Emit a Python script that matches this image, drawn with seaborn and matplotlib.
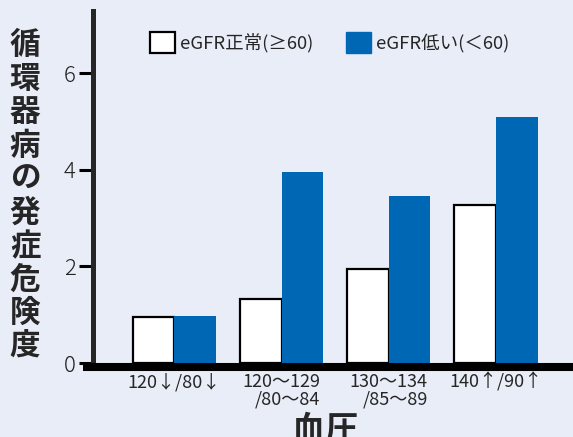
import numpy as np
import pandas as pd
import matplotlib
matplotlib.use("Agg")
import matplotlib.pyplot as plt
from matplotlib.lines import Line2D
from matplotlib.patches import Patch
import seaborn as sns

# data
categories = ["120↓/80↓", "120～129\n/80～84", "130～134\n/85～89", "140↑/90↑"]
normal_risk = [0.95, 1.32, 1.95, 3.27]
low_risk = [0.97, 3.95, 3.46, 5.10]
series = ["eGFR正常(≥60)", "eGFR低い(＜60)"]
yticks = [0, 2, 4, 6]

bg = "#E9EDF8"
blue = "#0067B5"

df = pd.DataFrame({"血圧": categories, series[0]: normal_risk, series[1]: low_risk})
df = df.melt(id_vars="血圧", var_name="eGFR", value_name="risk")

sns.set_style("ticks")
plt.rcParams['font.family'] = ['Noto Sans CJK JP', 'DejaVu Sans']

fig = plt.figure(figsize=(5.73, 4.37), dpi=100, facecolor=bg)
ax = fig.add_axes([92.5 / 573, 74 / 437, 1 - 92.5 / 573, 352 / 437])
ax.set_facecolor(bg)

sns.barplot(data=df, x="血圧", y="risk", hue="eGFR", palette=["white", blue],
            width=0.78, gap=0, saturation=1, legend=False, ax=ax)
for p in ax.containers[0]:
    p.set_edgecolor("black")
    p.set_linewidth(1.6)
for p in ax.containers[1]:
    p.set_edgecolor(blue)
    p.set_linewidth(0)

ax.set_xlim(-0.764, 3.72)
ax.set_ylim(0, 7.29)
ax.set_yticks(yticks)
ax.set_yticklabels([str(v) for v in yticks], fontsize=16, color="#222222", fontweight="light")
ax.tick_params(axis="y", length=10, width=2.2, pad=2, color="black")
ax.tick_params(axis="x", length=0, pad=7)
for lab in ax.get_xticklabels():
    lab.set_fontsize(13)
    lab.set_multialignment("right")
    lab.set_linespacing(1.0)

ax.set_xlabel("")
ax.set_ylabel("")
for s in ["top", "right", "bottom"]:
    ax.spines[s].set_visible(False)
ax.spines["left"].set_linewidth(3.6)

# thick base line extending past the left spine
fig.add_artist(Line2D([83 / 573, 1.0], [(437 - 367) / 437] * 2, color="black",
                      lw=5.8, solid_capstyle="butt", transform=fig.transFigure))

# vertical y label, one character per line
fig.text(25 / 573, (437 - 196) / 437, "\n".join("循環器病の発症危険度"), ha="center", va="center",
         fontsize=22, fontweight="bold", linespacing=1.06)
fig.text(325 / 573, (437 - 414) / 437, "血圧", ha="center", va="top",
         fontsize=24, fontweight="bold")

handles = [Patch(facecolor="white", edgecolor="black", linewidth=1.6),
           Patch(facecolor=blue, edgecolor=blue)]
fig.legend(handles, series, loc="upper left", bbox_to_anchor=(150 / 573, (437 - 32) / 437),
           ncol=2, frameon=False, fontsize=13.3, handlelength=1.35, handleheight=1.35,
           handletextpad=0.25, columnspacing=1.8, borderpad=0, borderaxespad=0)

fig.savefig("out.png", dpi=100, facecolor=bg)
